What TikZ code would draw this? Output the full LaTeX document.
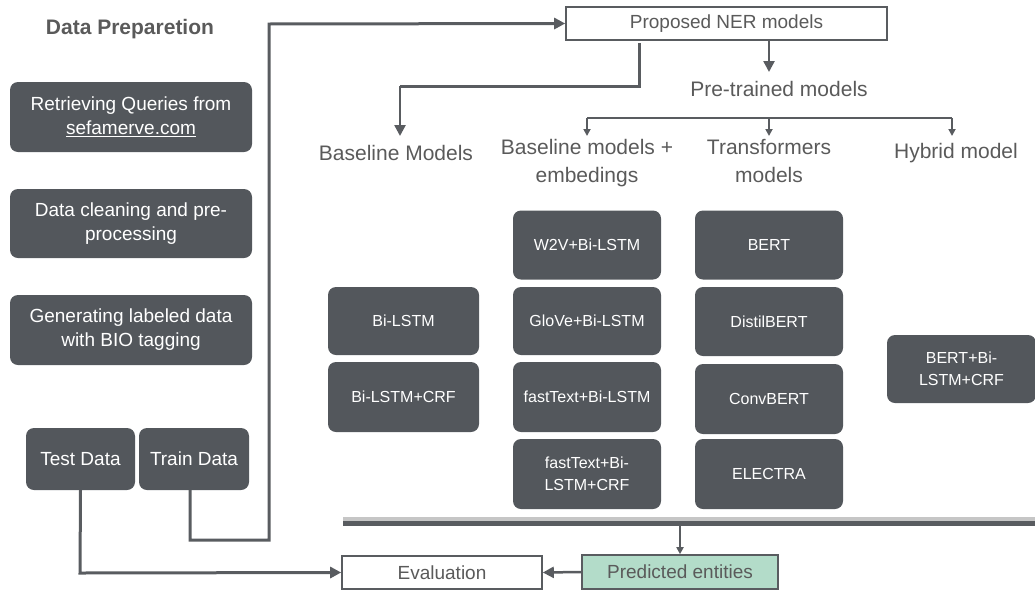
\documentclass[tikz,border=0pt]{standalone}
\usepackage{fontspec}
\setmainfont{Liberation Sans}
\usetikzlibrary{arrows.meta,calc}
\definecolor{boxc}{HTML}{53575C}
\definecolor{txtc}{HTML}{5A5A5A}
\definecolor{linec}{HTML}{595C60}
\definecolor{greenc}{HTML}{B3DCC9}
\tikzset{
  x=1pt,y=-1pt,
  darkbox/.style={draw=none,fill=boxc,rounded corners=8pt,text=white,align=center,inner sep=0pt,font=\fontsize{19}{24}\selectfont},
  modelbox/.style={darkbox,minimum width=148pt,minimum height=69pt,font=\fontsize{16}{22}\selectfont},
  lbl/.style={text=txtc,align=center,inner sep=0pt,font=\fontsize{21}{28}\selectfont},
  whitebox/.style={draw=linec,line width=1.6pt,fill=white,text=txtc,inner sep=0pt,font=\fontsize{19}{23}\selectfont},
  bigarrow/.style={draw=linec,line width=3pt,-{Triangle[length=11pt,width=11pt]}},
  smallarrow/.style={draw=linec,line width=2pt,-{Triangle[length=7pt,width=7pt]}},
  plainline/.style={draw=linec,line width=3pt},
}
\begin{document}
\begin{tikzpicture}
\useasboundingbox (0,0) rectangle (1035,592);
% left column
\node[text=txtc,font=\bfseries\fontsize{21}{25}\selectfont] (title) at (130,29) {Data Preparetion};
\node[darkbox,minimum width=242pt,minimum height=70pt] (retr) at (131,117) {Retrieving Queries from\\\underline{sefamerve.com}};
\node[darkbox,minimum width=242pt,minimum height=69pt] (clean) at (131,223.5) {Data cleaning and pre-\\processing};
\node[darkbox,minimum width=242pt,minimum height=70pt] (gen) at (131,330) {Generating labeled data\\with BIO tagging};
\node[darkbox,minimum width=109pt,minimum height=62pt] (test) at (80.5,459) {Test Data};
\node[darkbox,minimum width=110pt,minimum height=62pt] (train) at (194,459) {Train Data};
% top
\node[whitebox,minimum width=321pt,minimum height=33pt] (prop) at (726.5,23.5) {Proposed NER models};
\node[lbl] (pre) at (779,89) {Pre-trained models};
\node[lbl] (base) at (396,153) {Baseline Models};
\node[lbl,anchor=north] (emb) at (587,139) {Baseline models +\\embedings};
\node[lbl,anchor=north] (trans) at (769,139) {Transformers\\models};
\node[lbl] (hyb) at (956,153) {Hybrid model};
% model boxes
\node[modelbox,minimum width=151pt,minimum height=68pt] (bilstm) at (403.5,321) {Bi-LSTM};
\node[modelbox,minimum width=151pt,minimum height=70pt] (bilstmcrf) at (403.5,397) {Bi-LSTM+CRF};
\node[modelbox] (w2v) at (587,245) {W2V+Bi-LSTM};
\node[modelbox,minimum height=68pt] (glove) at (587,321) {GloVe+Bi-LSTM};
\node[modelbox,minimum height=70pt] (ft) at (587,397) {fastText+Bi-LSTM};
\node[modelbox,minimum height=70pt] (ftcrf) at (587,474) {fastText+Bi-\\LSTM+CRF};
\node[modelbox] (bert) at (769,245) {BERT};
\node[modelbox] (distil) at (769,321.5) {DistilBERT};
\node[modelbox,minimum height=70pt] (conv) at (769,399) {ConvBERT};
\node[modelbox,minimum height=70pt] (elec) at (769,474) {ELECTRA};
\node[modelbox,minimum width=149pt,minimum height=68pt] (hybbox) at (961.5,369) {BERT+Bi-\\LSTM+CRF};
% bar
\fill[gray!45] (343,516.5) rectangle (1035,521.5);
\node[fill=linec,inner sep=0pt,minimum width=692pt,minimum height=5pt,anchor=north west] (bar) at (343,521) {};
% bottom
\node[whitebox,minimum width=200pt,minimum height=33pt] (eval) at (442,572.5) {Evaluation};
\node[whitebox,fill=greenc,minimum width=196pt,minimum height=34pt] (pred) at (680,572) {Predicted entities};
% connectors
\coordinate (c1) at (190,540);
\coordinate (c2) at (269,540);
\coordinate (c3) at (269,24);
\draw[bigarrow] (train.south -| c1) -- (c1) -- (c2) -- (c3) -- (prop.west);
\coordinate (t1) at (80,573);
\draw[bigarrow] (test.south) -- (t1) -- (eval.west);
\coordinate (p1) at (639,43);
\coordinate (p2) at (639,86);
\coordinate (p3) at (400,86);
\coordinate (p4) at (400,136);
\draw[plainline] (p1) -- (p2) -- (p3);
\draw[bigarrow,line width=2.5pt] (p3) -- (p4);
\coordinate (q1) at (769,40);
\coordinate (q2) at (769,72);
\draw[bigarrow,line width=2.5pt] (q1) -- (q2);
\coordinate (b0) at (587,118);
\coordinate (b1) at (952,118);
\draw[draw=linec,line width=2pt] (b0) -- (b1);
\draw[smallarrow] (b0) -- (587,136);
\draw[smallarrow] (769,118) -- (769,136);
\draw[smallarrow] (b1) -- (952,136);
\draw[smallarrow] (bar.south -| pred.north) -- (pred.north);
\draw[bigarrow,line width=2.5pt] (pred.west) -- (eval.east);
\end{tikzpicture}
\end{document}
